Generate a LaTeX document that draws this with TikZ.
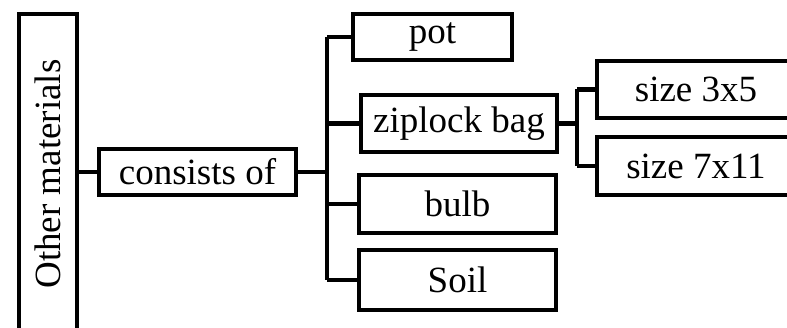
\documentclass[tikz,border=0pt]{standalone}
\usepackage{fontspec}
\setmainfont{Liberation Serif}
\usepackage{tikz}

\begin{document}
\begin{tikzpicture}[x=1pt,y=-1pt,line width=4.5pt,
  box/.style={draw,fill=white,inner sep=0pt,font=\fontsize{37}{40}\selectfont},
  link/.style={draw,line width=4.5pt}]
\useasboundingbox (0,0) rectangle (787,328);
\clip (0,0) rectangle (787,328);
\fill [white] (0,0) rectangle (787,328);

\node [box,minimum width=320,minimum height=58,rotate=90] (other) at (48,174) {Other materials};
\node [box,minimum width=197,minimum height=46] (cons) at (197.5,172) {consists of};

\node [box,minimum width=159,minimum height=46] (pot) at (432.5,37) {pot};
\node [box,minimum width=196,minimum height=57] (bag) at (459,123.5) {ziplock bag};
\node [box,minimum width=197,minimum height=58] (bulb) at (457.5,204) {bulb};
\node [box,minimum width=197,minimum height=60] (soil) at (457.5,280) {Soil};

\node [box,minimum width=198,minimum height=57] (small) at (696,89.5) {size 3x5};
\node [box,minimum width=198,minimum height=58] (large) at (696,166) {size 7x11};

\coordinate (trunk) at (327,172);
\coordinate (fork) at (577,123.5);

\draw [link] (other.south |- cons.west) -- (cons.west);
\draw [link] (cons.east) -- (trunk);
\draw [link] (trunk |- pot.west) -- (trunk |- soil.west);
\draw [link] (trunk |- pot.west) -- (pot.west);
\draw [link] (trunk |- bag.west) -- (bag.west);
\draw [link] (trunk |- bulb.west) -- (bulb.west);
\draw [link] (trunk |- soil.west) -- (soil.west);

\draw [link] (bag.east) -- (fork);
\draw [link] (fork |- small.west) -- (fork |- large.west);
\draw [link] (fork |- small.west) -- (small.west);
\draw [link] (fork |- large.west) -- (large.west);
\end{tikzpicture}
\end{document}
